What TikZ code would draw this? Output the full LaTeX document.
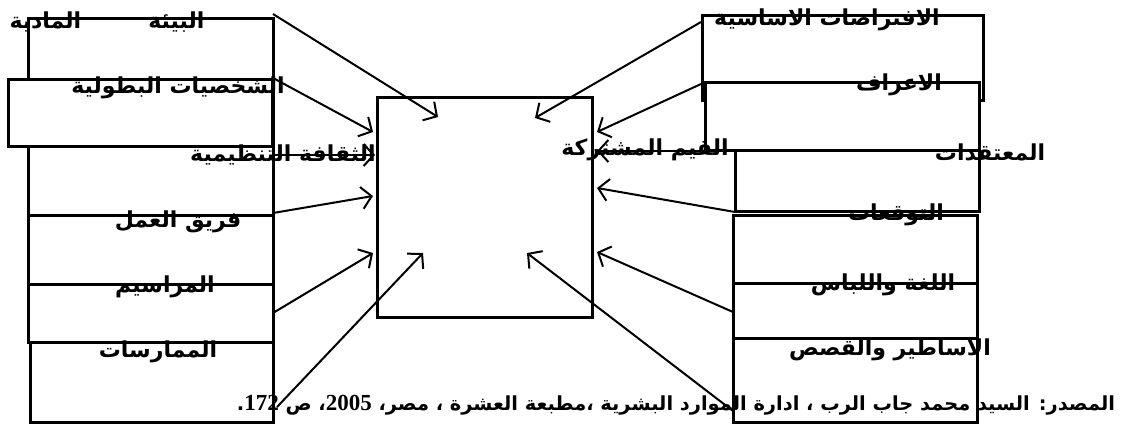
\documentclass[tikz,border=0pt]{standalone}
\usepackage{fontspec}
\usetikzlibrary{arrows.meta,fit}
\TeXXeTstate=1
\newfontfamily\arabicfont[Script=Arabic]{DejaVu Sans}
\newfontfamily\numfont{Liberation Serif}
\newcommand{\artext}[1]{{\arabicfont\bfseries\beginR #1\endR}}
\newcommand{\numtext}[1]{{\numfont\bfseries\fontsize{23}{26}\selectfont\beginL #1\endL}}
\begin{document}
\begin{tikzpicture}[x=1pt,y=-1pt,
  box/.style={draw, line width=3pt, fill=white, rectangle, inner sep=0pt, outer sep=0pt},
  lbl/.style={inner sep=0pt, font=\fontsize{22}{26}\selectfont},
  src/.style={inner sep=0pt, font=\fontsize{19.4}{22}\selectfont},
  arr/.style={line width=2pt, -{Straight Barb[length=10pt,width=22pt]}}]
\useasboundingbox (0,0) rectangle (1130,426);
% left column
\node[box, fit={(28,18) (273,146)}] (L1) {};
\node[box, fit={(28,146) (273,215)}] (L3) {};
\node[box, fit={(28,215) (273,284)}] (L4) {};
\node[box, fit={(28,284) (273,342)}] (L5) {};
\node[box, fit={(30,342) (273,422)}] (L6) {};
\node[box, fit={(8,79) (272,146)}] (L2) {};
% right column
\node[box, fit={(702,15) (983,100)}] (R1) {};
\node[box, fit={(705,82) (979,150)}] (R2) {};
\node[box, fit={(735,150) (979,211)}] (R3) {};
\node[box, fit={(733,215) (977,283)}] (R4) {};
\node[box, fit={(733,283) (977,338)}] (R5) {};
\node[box, fit={(733,338) (977,422)}] (R6) {};
% centre
\node[box, fit={(377,97) (592,317)}] (C) {};
% labels
\node[lbl] (tL1) at (107,22) {\artext{البيئة\hspace{67pt}المادية}};
\node[lbl] (tL2) at (178,88) {\artext{الشخصيات البطولية}};
\node[lbl] (tL3) at (283,155) {\artext{الثقافة التنظيمية}};
\node[lbl] (tL4) at (178,222) {\artext{فريق العمل}};
\node[lbl] (tL5) at (165,287) {\artext{المراسيم}};
\node[lbl] (tL6) at (158,352) {\artext{الممارسات}};
\node[lbl] (tC) at (645,150) {\artext{القيم المشتركة}};
\node[lbl] (tR1) at (827,20) {\artext{الافتراضات الاساسية}};
\node[lbl] (tR2) at (899,85) {\artext{الاعراف}};
\node[lbl] (tR3) at (990,152) {\artext{المعتقدات}};
\node[lbl] (tR4) at (896,215) {\artext{التوقعات}};
\node[lbl] (tR5) at (883,285) {\artext{اللغة واللباس}};
\node[lbl] (tR6) at (890,350) {\artext{الاساطير والقصص}};
\node[src] (tS) at (676,405) {\artext{المصدر: السيد محمد جاب الرب ، ادارة الموارد البشرية ،مطبعة العشرة ، مصر، \numtext{2005}، ص \numtext{172}.}};
% arrow endpoints
\coordinate (a1s) at (273,14);  \coordinate (a1t) at (438,117);
\coordinate (a2s) at (273,78);  \coordinate (a2t) at (373,132);
\coordinate (a3s) at (273,155); \coordinate (a3t) at (375,155);
\coordinate (a4s) at (273,213); \coordinate (a4t) at (373,196);
\coordinate (a5s) at (273,313); \coordinate (a5t) at (373,253);
\coordinate (a6s) at (277,407); \coordinate (a6t) at (423,253);
\coordinate (b1s) at (701,22);  \coordinate (b1t) at (535,118);
\coordinate (b2s) at (701,84);  \coordinate (b2t) at (597,132);
\coordinate (b3s) at (735,151); \coordinate (b3t) at (597,151);
\coordinate (b4s) at (735,212); \coordinate (b4t) at (597,188);
\coordinate (b5s) at (733,312); \coordinate (b5t) at (597,252);
\coordinate (b6s) at (733,411); \coordinate (b6t) at (527,253);
\foreach \n in {a1,a2,a3,a4,a5,a6,b1,b2,b3,b4,b5,b6}{
  \draw[arr] (\n s) -- (\n t);
}
\end{tikzpicture}
\end{document}
